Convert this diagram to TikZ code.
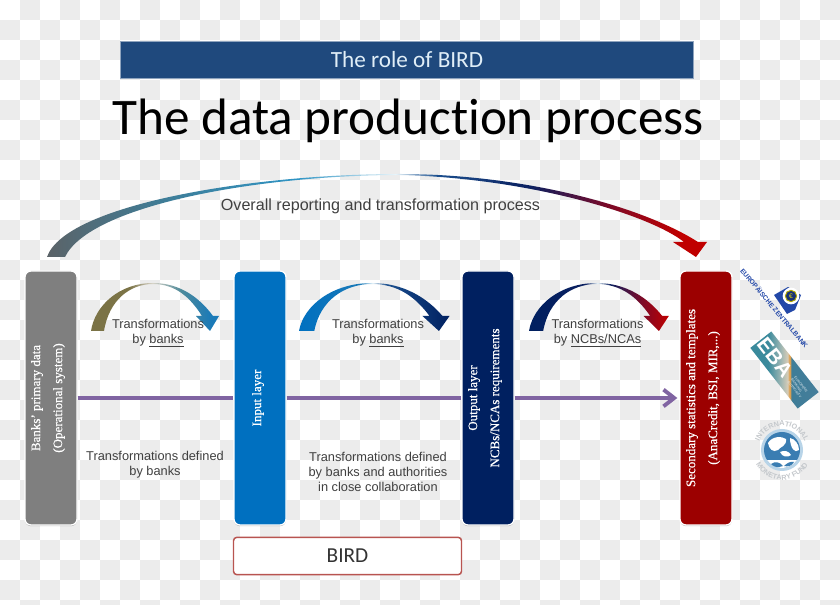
\documentclass[tikz,border=0pt]{standalone}
\usepackage{fontspec}
\setmainfont{Liberation Sans}
\newfontfamily\headfont[Ligatures=NoCommon]{Carlito}
\newfontfamily\barfont[FakeBold=0.5]{Liberation Serif}
\usepackage{xcolor}
\usetikzlibrary{arrows.meta,positioning,calc,shadows,decorations.text}
\definecolor{bdcheck}{HTML}{ECECEC}
\definecolor{bdband}{HTML}{1F497D}
\definecolor{bdink}{HTML}{404040}
\definecolor{bdgray}{HTML}{7F7F7F}
\definecolor{bdblue}{HTML}{0070C0}
\definecolor{bdnavy}{HTML}{002060}
\definecolor{bdred}{HTML}{9C0000}
\definecolor{bdpurple}{HTML}{8064A2}
\definecolor{bdframe}{HTML}{B85450}
\definecolor{ecbblue}{HTML}{2348A8}
\definecolor{imfblue}{HTML}{3A7DB2}
\definecolor{imfrim}{HTML}{B8D4E8}
\definecolor{imfgray}{HTML}{C4C8CC}
\definecolor{fsteel}{HTML}{5B6368}
\definecolor{fteal}{HTML}{3E7D98}
\definecolor{fsky}{HTML}{2F94C4}
\definecolor{fpale}{HTML}{E8F4FA}
\definecolor{fmid}{HTML}{1B4F8E}
\definecolor{fdeep}{HTML}{0B2060}
\definecolor{fwine}{HTML}{7A0A28}
\definecolor{fcrim}{HTML}{C00000}
\definecolor{folive}{HTML}{7B7346}
\definecolor{fsand}{HTML}{D8D4C8}
\definecolor{fsea}{HTML}{4F8A9A}
\definecolor{fazure}{HTML}{1A7AB8}
\definecolor{eteal}{HTML}{3A8A9C}
\definecolor{egrey}{HTML}{8FB0B0}
\definecolor{epeach}{HTML}{D8CDB8}
\definecolor{eorange}{HTML}{DDA050}
\definecolor{eslate}{HTML}{4F7C9C}
\pgfdeclarehorizontalshading{overallfade}{100bp}{color(0bp)=(fsteel); color(25bp)=(fsteel);
  color(34bp)=(fteal); color(44bp)=(fsky); color(51.4bp)=(fpale); color(54.5bp)=(fmid);
  color(61.6bp)=(fdeep); color(67.4bp)=(fwine); color(73bp)=(fcrim); color(100bp)=(fcrim)}
\pgfdeclarehorizontalshading{banksfade}{100bp}{color(0bp)=(folive); color(25bp)=(folive);
  color(40bp)=(folive); color(49bp)=(fsand); color(60bp)=(fsea); color(72bp)=(fazure); color(100bp)=(fazure)}
\pgfdeclarehorizontalshading{inputfade}{100bp}{color(0bp)=(bdblue); color(25bp)=(bdblue);
  color(45bp)=(fazure); color(49.5bp)=(fpale); color(54bp)=(fmid); color(75bp)=(bdnavy); color(100bp)=(bdnavy)}
\pgfdeclarehorizontalshading{outputfade}{100bp}{color(0bp)=(bdnavy); color(25bp)=(bdnavy);
  color(45bp)=(fdeep); color(49.5bp)=(fpale); color(54bp)=(fdeep); color(65bp)=(fwine); color(75bp)=(fcrim); color(100bp)=(fcrim)}
\pgfdeclarehorizontalshading{ebafade}{100bp}{color(0bp)=(eteal); color(25bp)=(eteal);
  color(38bp)=(eteal); color(46bp)=(egrey); color(52.5bp)=(epeach); color(53.2bp)=(eorange); color(54.2bp)=(eorange); color(55bp)=(fteal); color(100bp)=(eslate)}
\tikzset{
  layerbar/.style={rectangle,rounded corners=4.5pt,draw=white,line width=1pt,
                   minimum width=39pt,minimum height=190.5pt,
                   drop shadow={shadow xshift=0pt,shadow yshift=-0.9pt,fill=black,opacity=0.25}},
  barlabel/.style={rotate=90,align=center,text=white,font=\barfont\fontsize{9.75}{16.5}\selectfont},
  note/.style={align=center,text=bdink,font=\fontsize{9.6}{11.4}\selectfont},
  flowline/.style={draw=bdpurple,line width=2.9pt},
  bendarrow/.style={line width=0pt},
  ringtext/.style={decorate,decoration={text along path,text align=center,text={#1}}},
}
\begin{document}
\begin{tikzpicture}[x=0.75pt,y=-0.75pt]
\useasboundingbox (0,0) rectangle (840,605);
\begin{scope}
\clip (0,0) rectangle (840,605);
\fill[white] (0,0) rectangle (840,605);
\foreach \i in {0,...,41} \foreach \j in {0,...,30} {
  \pgfmathtruncatemacro{\odd}{mod(\i+\j,2)}
  \ifnum\odd=1 \fill[bdcheck] (20*\i,20*\j) rectangle +(20,20); \fi
}
\end{scope}
% heading
\node[fill=bdband,draw=bdband!50!white,line width=0.4pt,minimum width=430pt,minimum height=27.7pt,
      text=white!88!bdblue,font=\headfont\fontsize{17.4}{19}\selectfont] (band) at (407,60) {\raisebox{-0.75pt}{The role of BIRD}};
\node[font=\headfont\fontsize{38.4}{42}\selectfont] (title) at (408,121) {The data production process};
% arcs
\shade[bendarrow,shading=overallfade] (47,257) .. controls (65,205) and (250,174) .. (400,174)
  .. controls (520,174) and (640,205) .. (698,242) -- (707,242) -- (696,257) -- (673,242) -- (684,242)
  .. controls (650,215) and (530,178) .. (400,175) .. controls (260,175) and (90,205) .. (65,257) -- cycle;
\foreach \xa/\fac/\shd in {91/1/banksfade,299/1.176/inputfade,529/1.092/outputfade} {
  \shade[bendarrow,shading=\shd,xshift=\xa*0.75pt,xscale=\fac]
    (0,331) .. controls (4,305) and (29,283) .. (62,283) .. controls (89,283) and (109,298) .. (122,316)
    -- (128,316) -- (119,331) -- (105,316) -- (111,316) .. controls (99,297) and (84,284) .. (62,284)
    .. controls (39,284) and (18,300) .. (13,331) -- cycle;
}
\node[note,font=\fontsize{12.1}{14}\selectfont] (overall) at (380.5,206) {Overall reporting and transformation process};
% layers
\node[layerbar,fill=bdgray] (primary) at (51,398) {};
\node[layerbar,fill=bdblue] (input) at (260,398) {};
\node[layerbar,fill=bdnavy] (output) at (488,398) {};
\node[layerbar,fill=bdred] (secondary) at (706,398) {};
\node[barlabel] (primarytxt) at ($(primary)+(-3,0)$) {Banks’ primary data\\(Operational system)};
\node[barlabel] (inputtxt) at ($(input)+(-2,0)$) {Input layer};
\node[barlabel] (outputtxt) at ($(output)+(-3,0)$) {Output layer\\NCBs/NCAs requirements};
\node[barlabel] (secondarytxt) at ($(secondary)+(-3,0)$) {Secondary statistics and templates\\(AnaCredit, BSI, MIR,...)};
\draw[flowline] (primary.east) -- (input.west);
\draw[flowline] (input.east) -- (output.west);
\draw[flowline,-{Straight Barb[length=8pt,width=12.5pt]},shorten >=1.5pt] (output.east) -- (secondary.west);
% labels
\node[note] (t1) at (158,333) {Transformations\\by \underline{banks}};
\node[note] (t2) at (378,333) {Transformations\\by \underline{banks}};
\node[note] (t3) at (597.5,333) {Transformations\\by \underline{NCBs/NCAs}};
\node[note] (d1) at (155,464.5) {Transformations defined\\by banks};
\node[note] (d2) at (378,472) {Transformations defined\\by banks and authorities\\in close collaboration};
\node[draw=bdframe,line width=1.1pt,rounded corners=2.5pt,fill=white,minimum width=171pt,minimum height=28pt,
      text=bdink!80!black,font=\headfont\fontsize{16}{18}\selectfont] (bird) at (347.5,556) {BIRD};
% ecb
\node[rotate=-50,text=ecbblue,font=\bfseries\fontsize{5}{6}\selectfont] (ecbtxt) at (774.5,308) {EUROPÄISCHE ZENTRALBANK};
\fill[ecbblue] (774,295) -- (788,287) -- (801,295) -- (795,310) -- (787,314) -- cycle;
\node[circle,fill=white,minimum size=12.5pt,inner sep=0pt] (ecbring) at (791,296) {};
\node[circle,fill=ecbblue!70!black,draw=olive!70!yellow,line width=0.7pt,minimum size=8.5pt,inner sep=0pt,
      text=yellow!80!olive,font=\fontsize{5}{5}\selectfont] (ecbcore) at (ecbring) {€};
% eba
\node[shade,shading=ebafade,rotate=-52,minimum width=57.7pt,minimum height=20pt,inner sep=0pt] (eba) at (784.5,370) {};
\node[rotate=-52,text=white,font=\bfseries\fontsize{15.5}{16}\selectfont] (ebatxt) at ($(eba.west)!0.3!(eba.east)$) {EBA};
\node[rotate=-52,text=white!85!eslate,align=left,font=\fontsize{2.6}{3.1}\selectfont] (ebasub) at ($(eba.west)!0.78!(eba.east)$) {EUROPEAN\\BANKING\\AUTHORITY};
% imf
\coordinate (imf) at (782,450);
\node[circle,fill=imfrim,minimum size=31.5pt,inner sep=0pt] (imfdisc) at (imf) {};
\node[circle,fill=imfblue,minimum size=27pt,inner sep=0pt] (imfglobe) at (imf) {};
\begin{scope}
\clip (imf) circle (18);
\fill[white] (760,460) -- (804,460) -- (804,472) -- (760,472) -- cycle;
\fill[white] (768,443) .. controls (772,436) and (782,436) .. (786,439) .. controls (787,446) and (780,447) .. (778,450)
  .. controls (773,453) and (769,449) .. (768,443) -- cycle;
\fill[white] (790,438) .. controls (795,439) and (799,444) .. (799,450) .. controls (795,454) and (790,448) .. (790,438) -- cycle;
\fill[white] (780,452) .. controls (784,450) and (789,451) .. (791,455) .. controls (788,458) and (782,457) .. (780,452) -- cycle;
\fill[imfblue] (771,464) .. controls (775,461) and (780,462) .. (783,466) .. controls (778,468) and (773,467) .. (771,464) -- cycle;
\fill[imfblue] (794,462) .. controls (791,461) and (787,463) .. (784,466) .. controls (788,467) and (792,466) .. (794,462) -- cycle;
\end{scope}
\path[ringtext={|\bfseries\fontsize{5.4}{6}\selectfont\color{imfgray}|INTERNATIONAL}] (758,450) arc (180:360:24);
\path[ringtext={|\bfseries\fontsize{5.4}{6}\selectfont\color{imfgray}|MONETARY FUND}] (752,450) arc (180:0:30);
\end{tikzpicture}
\end{document}
